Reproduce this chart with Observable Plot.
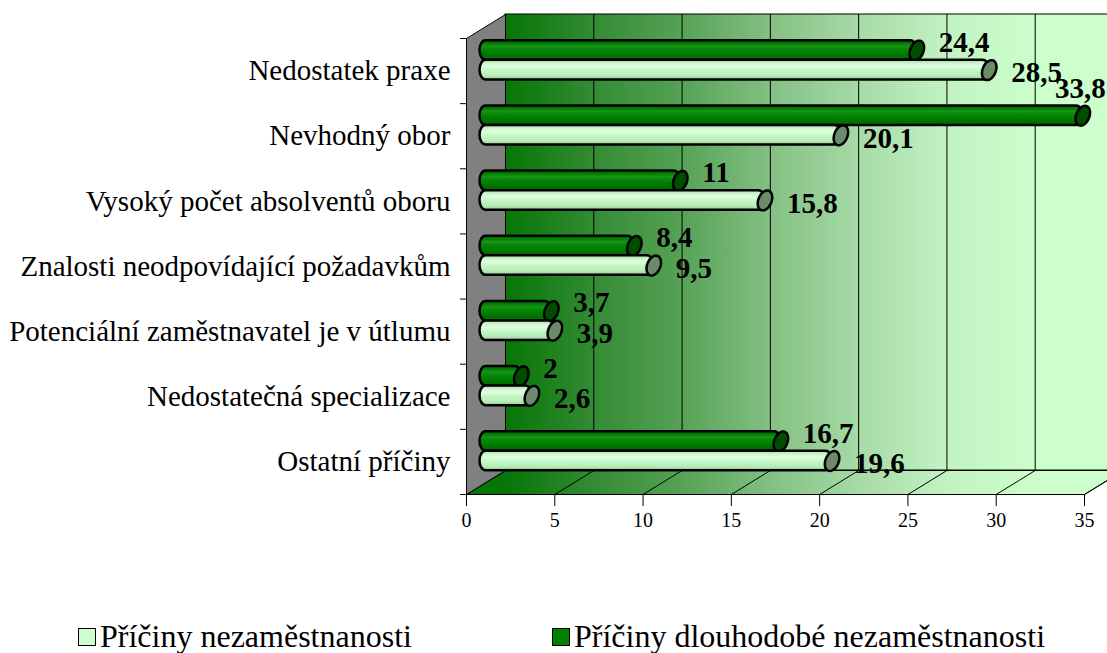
<!DOCTYPE html>
<html><head><meta charset="utf-8">
<script src="https://cdn.jsdelivr.net/npm/d3@7"></script>
<script src="https://cdn.jsdelivr.net/npm/@observablehq/plot@0.6"></script>
<style>
body{margin:0;background:#fff;overflow:hidden;font-family:"Liberation Serif","Times New Roman",serif;}
#chart svg{overflow:hidden;display:block}
#legend{position:relative;width:1107px;height:53px;}
.item{position:absolute;top:20px;height:32px;line-height:32px;font-size:32px;white-space:nowrap;color:#000}
.sw{display:inline-block;box-sizing:border-box;width:18px;height:18px;border:1.5px solid #000;vertical-align:middle;margin-right:4px;position:relative;top:-3px}
</style></head><body>
<div id="chart"></div>
<div id="legend"></div>
<script>
const categories = ["Nedostatek praxe","Nevhodný obor","Vysoký počet absolventů oboru","Znalosti neodpovídající požadavkům","Potenciální zaměstnavatel je v útlumu","Nedostatečná specializace","Ostatní příčiny"];
const seriesNames = ["Příčiny nezaměstnanosti","Příčiny dlouhodobé nezaměstnanosti"];
const valuesNezam = [28.5,20.1,15.8,9.5,3.9,2.6,19.6];
const valuesDlouho = [24.4,33.8,11,8.4,3.7,2,16.7];
const xTicks = [0,5,10,15,20,25,30,35];

// layout
const W = 1107, H = 600, mL = 466, mR = 23, mT = 38, mB = 106;
const xMax = 35, nCat = categories.length;
const kx = (W - mL - mR) / xMax, ky = (H - mT - mB) / nCat;
const depthX = 39, depthY = 24;          // px of 3D depth
const DXu = depthX / kx, DYu = depthY / ky; // depth in data units
const midDx = depthX / 2, midDy = -depthY / 2;

const rows = categories.map((c, i) => ({i, c,
  dark: valuesDlouho[i], light: valuesNezam[i]}));

const floorPts = [[0,nCat],[xMax,nCat],[xMax+DXu,nCat-DYu],[DXu,nCat-DYu],[0,nCat]].map(([x,y])=>({x,y}));
const sidePts = [[0,0],[DXu,-DYu],[DXu,nCat-DYu],[0,nCat],[0,0]].map(([x,y])=>({x,y}));

const capSymbol = {
  draw(ctx) {
    const a = 10.4, b = 6.6, th = 22 * Math.PI / 180, n = 48;
    for (let k = 0; k <= n; k++) {
      const t = 2 * Math.PI * k / n;
      const x0 = b * Math.cos(t), y0 = a * Math.sin(t);
      const x = x0 * Math.cos(th) - y0 * Math.sin(th);
      const y = x0 * Math.sin(th) + y0 * Math.cos(th);
      if (k === 0) ctx.moveTo(x, y); else ctx.lineTo(x, y);
    }
    ctx.closePath();
  }
};

const fmt = v => String(v).replace(".", ",");
const font = "Liberation Serif";
const labelGap = 22, estW = 55;
const fits = v => mL + midDx + v * kx + labelGap + estW <= W;

const darkY1 = 0.22, darkY2 = 0.52, lightY2 = 0.82;

const plot = Plot.plot({
  width: W, height: H, marginLeft: mL, marginRight: mR, marginTop: mT, marginBottom: mB,
  x: {domain: [0, xMax], ticks: xTicks, tickSize: 12, tickPadding: 6, label: null, tickFormat: d => String(d)},
  y: {domain: [0, nCat], reverse: true, axis: null},
  style: {fontFamily: font, fontSize: "20px", color: "black", background: "white", overflow: "hidden"},
  marks: [
    // back wall
    Plot.rect([0], {x1: () => DXu, x2: () => xMax + DXu, y1: () => -DYu, y2: () => nCat - DYu, fill: "url(#wallGrad)", stroke: "black", strokeWidth: 1}),
    Plot.ruleX(xTicks.slice(1), {x: d => d + DXu, y1: () => -DYu, y2: () => nCat - DYu, stroke: "black", strokeWidth: 1}),
    // floor
    Plot.line(floorPts, {x: "x", y: "y", fill: "url(#wallGrad)", stroke: "black", strokeWidth: 1, curve: "linear"}),
    Plot.link(xTicks, {x1: d => d, y1: () => nCat, x2: d => d + DXu, y2: () => nCat - DYu, stroke: "black", strokeWidth: 1}),
    // side wall
    Plot.line(sidePts, {x: "x", y: "y", fill: "#808080", stroke: "black", strokeWidth: 1, curve: "linear"}),
    Plot.ruleY(d3.range(nCat + 1), {y: d => d, x1: () => -6 / kx, x2: () => 0, stroke: "black", strokeWidth: 1}),
    // category labels
    Plot.text(rows, {x: () => 0, y: d => d.i + 0.5, text: d => d.c, textAnchor: "end", dx: -16, fontSize: 29, fontFamily: font, fill: "black"}),
    // dark cylinders
    Plot.rect(rows, {x1: () => 0, x2: d => d.dark, y1: d => d.i + darkY1, y2: d => d.i + darkY2, dx: midDx, dy: midDy, insetLeft: -6, rx: 6, ry: 9.8, fill: "url(#cylDark)", stroke: "black", strokeWidth: 2.5}),
    Plot.dot(rows, {x: d => d.dark, y: d => d.i + (darkY1 + darkY2) / 2, dx: midDx, dy: midDy, symbol: capSymbol, fill: "#004d00", stroke: "black", strokeWidth: 2.5}),
    // light cylinders
    Plot.rect(rows, {x1: () => 0, x2: d => d.light, y1: d => d.i + darkY2, y2: d => d.i + lightY2, dx: midDx, dy: midDy, insetLeft: -6, rx: 6, ry: 9.8, fill: "url(#cylLight)", stroke: "black", strokeWidth: 2.5}),
    Plot.dot(rows, {x: d => d.light, y: d => d.i + (darkY2 + lightY2) / 2, dx: midDx, dy: midDy, symbol: capSymbol, fill: "#6b8b6b", stroke: "black", strokeWidth: 2.5}),
    // value labels
    Plot.text(rows.filter(d => fits(d.dark)), {x: d => d.dark, y: d => d.i + (darkY1 + darkY2) / 2, text: d => fmt(d.dark), textAnchor: "start", dx: midDx + labelGap, dy: midDy - 8, fontSize: 29, fontWeight: "bold", fontFamily: font, fill: "black"}),
    Plot.text(rows.filter(d => !fits(d.dark)), {x: d => d.dark, y: d => d.i + (darkY1 + darkY2) / 2, text: d => fmt(d.dark), textAnchor: "end", dx: midDx + 23, dy: midDy - 27, fontSize: 29, fontWeight: "bold", fontFamily: font, fill: "black"}),
    Plot.text(rows, {x: d => d.light, y: d => d.i + (darkY2 + lightY2) / 2, text: d => fmt(d.light), textAnchor: "start", dx: midDx + labelGap, dy: midDy + 3, fontSize: 29, fontWeight: "bold", fontFamily: font, fill: "black"})
  ]
});

// gradients
const defs = d3.select(plot).insert("defs", ":first-child");
const wall = defs.append("linearGradient").attr("id", "wallGrad").attr("gradientUnits", "userSpaceOnUse")
  .attr("x1", 480).attr("x2", 1040).attr("y1", 0).attr("y2", 0);
[[0, "#057505"], [0.045, "#067606"], [0.2, "#338b33"], [0.36, "#56a256"], [0.52, "#84c084"], [0.675, "#a6daa6"], [0.83, "#c2f2c2"], [1, "#ccffcc"]]
  .forEach(([o, c]) => wall.append("stop").attr("offset", o).attr("stop-color", c));
const cd = defs.append("linearGradient").attr("id", "cylDark").attr("x1", 0).attr("x2", 0).attr("y1", 0).attr("y2", 1);
[[0, "#006400"], [0.15, "#007e00"], [0.3, "#1a941a"], [0.42, "#0a8a0a"], [0.6, "#008000"], [1, "#006600"]]
  .forEach(([o, c]) => cd.append("stop").attr("offset", o).attr("stop-color", c));
const cl = defs.append("linearGradient").attr("id", "cylLight").attr("x1", 0).attr("x2", 0).attr("y1", 0).attr("y2", 1);
[[0, "#a8dca8"], [0.2, "#d0f8d0"], [0.35, "#e0ffe0"], [0.5, "#c8f8c8"], [0.8, "#b8ecb8"], [1, "#98c898"]]
  .forEach(([o, c]) => cl.append("stop").attr("offset", o).attr("stop-color", c));

document.getElementById("chart").appendChild(plot);

// legend
const legend = d3.select("#legend");
[[seriesNames[0], "#ccffcc", 78], [seriesNames[1], "#008000", 552]].forEach(([name, col, left]) => {
  const it = legend.append("div").attr("class", "item").style("left", left + "px");
  it.append("span").attr("class", "sw").style("background", col);
  it.append("span").text(name);
});
</script>
</body></html>
